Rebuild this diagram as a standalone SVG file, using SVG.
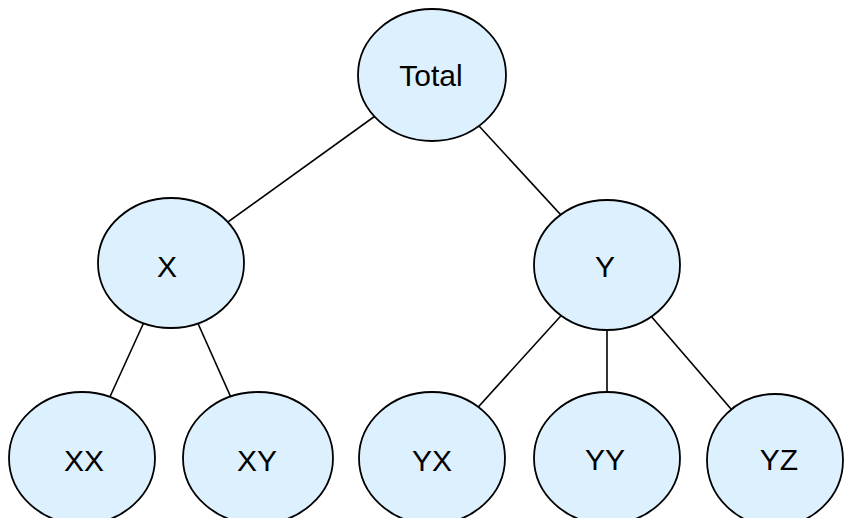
<svg xmlns="http://www.w3.org/2000/svg" width="848" height="518" viewBox="0 0 848 518">
<style>
.n ellipse{fill:#ddf0fe;stroke:#000;stroke-width:1.8}
.n text{font-family:"Liberation Sans",Arial,sans-serif;font-size:30px;fill:#000;text-anchor:middle}
.c line{stroke:#000;stroke-width:1.6}
</style>
<rect width="848" height="518" fill="#fff"/>
<g id="connectors" class="c">
<line x1="432" y1="75" x2="171" y2="263"/>
<line x1="432" y1="75" x2="607" y2="265"/>
<line x1="171" y1="263" x2="82" y2="458"/>
<line x1="171" y1="263" x2="258" y2="458"/>
<line x1="607" y1="265" x2="432" y2="458"/>
<line x1="607" y1="265" x2="607" y2="458"/>
<line x1="607" y1="265" x2="775" y2="460"/>
</g>
<g id="total" class="n"><ellipse cx="432" cy="75" rx="74" ry="66"/><text x="431" y="86">Total</text></g>
<g id="x" class="n"><ellipse cx="171" cy="263" rx="73" ry="65"/><text x="167" y="277">X</text></g>
<g id="y" class="n"><ellipse cx="607" cy="265" rx="73" ry="65"/><text x="605" y="277">Y</text></g>
<g id="xx" class="n"><ellipse cx="82" cy="458" rx="73" ry="66"/><text x="84" y="471">XX</text></g>
<g id="xy" class="n"><ellipse cx="258" cy="458" rx="75" ry="66"/><text x="257" y="471">XY</text></g>
<g id="yx" class="n"><ellipse cx="432" cy="458" rx="73" ry="66"/><text x="432" y="471">YX</text></g>
<g id="yy" class="n"><ellipse cx="607" cy="458" rx="73" ry="66"/><text x="605" y="470">YY</text></g>
<g id="yz" class="n"><ellipse cx="775" cy="460" rx="68" ry="66"/><text x="779" y="470">YZ</text></g>
</svg>
